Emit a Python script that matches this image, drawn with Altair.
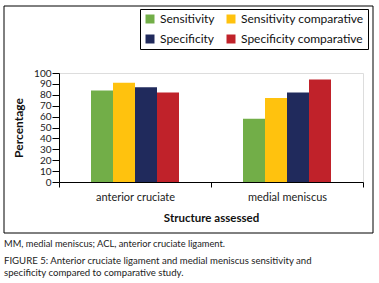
import altair as alt
import pandas as pd

structures = ["anterior cruciate", "medial meniscus"]
series = ["Sensitivity", "Sensitivity comparative", "Specificity", "Specificity comparative"]
values = {
    "Sensitivity": [84, 58],
    "Sensitivity comparative": [91, 77],
    "Specificity": [87, 82],
    "Specificity comparative": [82, 94],
}
colors = ["#72AE48", "#FFC20E", "#202A5C", "#C0222A"]
y_ticks = list(range(0, 101, 10))
note_text = "MM, medial meniscus; ACL, anterior cruciate ligament."
caption_lines = [
    "FIGURE 5: Anterior cruciate ligament and medial meniscus sensitivity and",
    "specificity compared to comparative study.",
]

rows = []
for s in series:
    for st, v in zip(structures, values[s]):
        rows.append({"structure": st, "series": s, "value": v})
df = pd.DataFrame(rows)

FONT = "Lato"

bars = alt.Chart(df).mark_bar().encode(
    x=alt.X("structure:N", sort=structures,
            scale=alt.Scale(paddingInner=0, paddingOuter=0),
            axis=alt.Axis(title="Structure assessed", labelAngle=0, tickBand="extent",
                          tickSize=5, labelPadding=4, labelFontSize=11, labelColor="#222",
                          titleFontSize=11.5, titleFontWeight="bold", titlePadding=10,
                          domainColor="#000", tickColor="#000", titleColor="#111")),
    xOffset=alt.XOffset("series:N", sort=series,
                        scale=alt.Scale(paddingInner=0, paddingOuter=0, range=[32, 120])),
    y=alt.Y("value:Q", scale=alt.Scale(domain=[0, 100], nice=False),
            axis=alt.Axis(title="Percentage", values=y_ticks, grid=False, tickSize=7,
                          labelOverlap=False, labelPadding=1, labelFontSize=10,
                          labelColor="#222",
                          titleFontSize=12, titleFontWeight="bold", titlePadding=8,
                          domainColor="#000", tickColor="#000", titleColor="#111")),
    color=alt.Color("series:N", sort=series,
                    scale=alt.Scale(domain=series, range=colors),
                    legend=alt.Legend(title=None, orient="none", legendX=81, legendY=-64,
                                      direction="horizontal",
                                      columns=2, symbolType="square", symbolSize=81,
                                      symbolStrokeWidth=0, labelFontSize=12,
                                      labelColor="#111", labelLimit=300,
                                      strokeColor="#000", padding=4, rowPadding=8,
                                      columnPadding=10, labelOffset=4)),
)

border = alt.Chart(pd.DataFrame({"a": [0]})).mark_rect(fill=None, stroke="#000", strokeWidth=1).encode(
    x=alt.value(-55), x2=alt.value(314), y=alt.value(-67), y2=alt.value(160)
)

note = alt.Chart(pd.DataFrame({"t": [note_text]})).mark_text(
    align="left", baseline="middle", fontSize=9.3, font=FONT, color="#222"
).encode(x=alt.value(-55), y=alt.value(171), text="t:N")

cap = alt.Chart(pd.DataFrame({"i": [0]})).mark_text(
    align="left", baseline="middle", fontSize=9.6, font=FONT, color="#222", lineHeight=12.3
).encode(x=alt.value(-55), y=alt.value(188), text=alt.value(caption_lines))

chart = alt.layer(border, bars, note, cap).properties(
    width=304, height=109,
    autosize=alt.AutoSizeParams(type="none"),
    padding={"left": 59, "top": 73, "right": 16, "bottom": 101},
).configure_view(stroke=None).configure(font=FONT, background="white")

chart.save("out.html", embed_options={"renderer": "svg", "actions": False})
